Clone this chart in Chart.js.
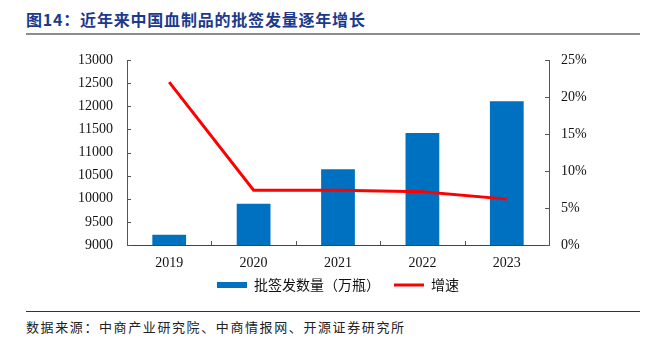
<!DOCTYPE html>
<html>
<head>
<meta charset="utf-8">
<script src="https://cdn.jsdelivr.net/npm/chart.js@4/dist/chart.umd.min.js"></script>
<style>
  body { margin: 0; background: #fff; width: 650px; height: 342px; position: relative; overflow: hidden; }
  #title { position: absolute; left: 26px; top: 7px; font: bold 16px "Noto Sans CJK SC", sans-serif; color: #1B3A8C; letter-spacing: 0.8px; }
  #titleLine { position: absolute; left: 26px; top: 33px; width: 614px; height: 2px; background: #8c8c8c; }
  #footLine { position: absolute; left: 26px; top: 311px; width: 614px; height: 1px; background: #333; }
  #foot { position: absolute; left: 26px; top: 317px; font: 13px "Noto Sans CJK SC", sans-serif; color: #222; letter-spacing: 1.6px; }
  #wrap { position: absolute; left: 0; top: 0; width: 650px; height: 310px; }
</style>
</head>
<body>
<div id="title">图14：近年来中国血制品的批签发量逐年增长</div>
<div id="titleLine"></div>
<div id="wrap"><canvas id="chart"></canvas></div>
<div id="footLine"></div>
<div id="foot">数据来源：中商产业研究院、中商情报网、开源证券研究所</div>
<script>
const years = ['2019', '2020', '2021', '2022', '2023'];
const batchVolume = [9220, 9890, 10640, 11420, 12110]; // 万瓶
const growthRate = [22.0, 7.4, 7.4, 7.2, 6.2]; // %

const serif = '"Liberation Serif", "Times New Roman", serif';

// small inward tick marks like the original
const innerTicks = {
    id: 'innerTicks',
    afterLayout(chart) {
        // pull the legend a bit closer to the axis labels
        chart.legend.top -= 8;
        chart.legend.bottom -= 8;
    },
    afterDraw(chart) {
        const ctx = chart.ctx;
        const area = chart.chartArea;
        const x = chart.scales.x, y = chart.scales.y, y1 = chart.scales.y1;
        ctx.save();
        ctx.strokeStyle = '#555';
        ctx.lineWidth = 1;
        ctx.beginPath();
        y.ticks.forEach(t => {
            const py = Math.round(y.getPixelForValue(t.value)) + 0.5;
            ctx.moveTo(area.left, py);
            ctx.lineTo(area.left + 4, py);
        });
        y1.ticks.forEach(t => {
            const py = Math.round(y1.getPixelForValue(t.value)) + 0.5;
            ctx.moveTo(area.right, py);
            ctx.lineTo(area.right - 4, py);
        });
        for (let i = 0; i <= years.length; i++) {
            const px = Math.round(x.getPixelForValue(i - 0.5)) + 0.5;
            ctx.moveTo(px, area.bottom);
            ctx.lineTo(px, area.bottom - 4);
        }
        ctx.stroke();
        ctx.restore();
    }
};

new Chart(document.getElementById('chart'), {
    data: {
        labels: years,
        datasets: [
            {
                type: 'line',
                label: '增速',
                data: growthRate,
                yAxisID: 'y1',
                borderColor: '#FF0000',
                backgroundColor: '#FF0000',
                borderWidth: 3,
                pointRadius: 0,
                pointStyle: 'line',
                tension: 0,
                order: 0
            },
            {
                type: 'bar',
                label: '批签发数量（万瓶）',
                data: batchVolume,
                yAxisID: 'y',
                backgroundColor: '#0070C0',
                borderWidth: 0,
                pointStyle: 'rect',
                barPercentage: 0.4,
                categoryPercentage: 1,
                order: 1
            }
        ]
    },
    options: {
        responsive: true,
        maintainAspectRatio: false,
        animation: false,
        layout: { padding: { top: 60, left: 26, right: 0, bottom: 0 } },
        scales: {
            x: {
                grid: { display: false, drawTicks: false },
                border: { color: '#444', width: 1 },
                ticks: { color: '#111', font: { family: serif, size: 14 }, padding: 10 },
                afterFit(scale) { scale.height = 27; }
            },
            y: {
                position: 'left',
                min: 9000,
                max: 13000,
                grid: { display: false, drawTicks: false },
                border: { color: '#555', width: 1 },
                ticks: {
                    stepSize: 500,
                    color: '#111',
                    font: { family: serif, size: 14 },
                    padding: 14,
                    callback: v => String(v)
                },
                afterFit(scale) { scale.width = 101; }
            },
            y1: {
                position: 'right',
                min: 0,
                max: 25,
                grid: { display: false, drawTicks: false },
                border: { color: '#555', width: 1 },
                ticks: {
                    stepSize: 5,
                    color: '#111',
                    font: { family: serif, size: 14 },
                    padding: 12,
                    callback: v => v + '%'
                },
                afterFit(scale) { scale.width = 101; }
            }
        },
        plugins: {
            legend: {
                position: 'bottom',
                reverse: true,
                labels: {
                    usePointStyle: true,
                    pointStyleWidth: 30,
                    boxHeight: 6,
                    padding: 14,
                    color: '#111',
                    font: { family: '"Noto Sans CJK SC", sans-serif', size: 14 }
                }
            },
            tooltip: { enabled: false }
        }
    },
    plugins: [innerTicks]
});
</script>
</body>
</html>
